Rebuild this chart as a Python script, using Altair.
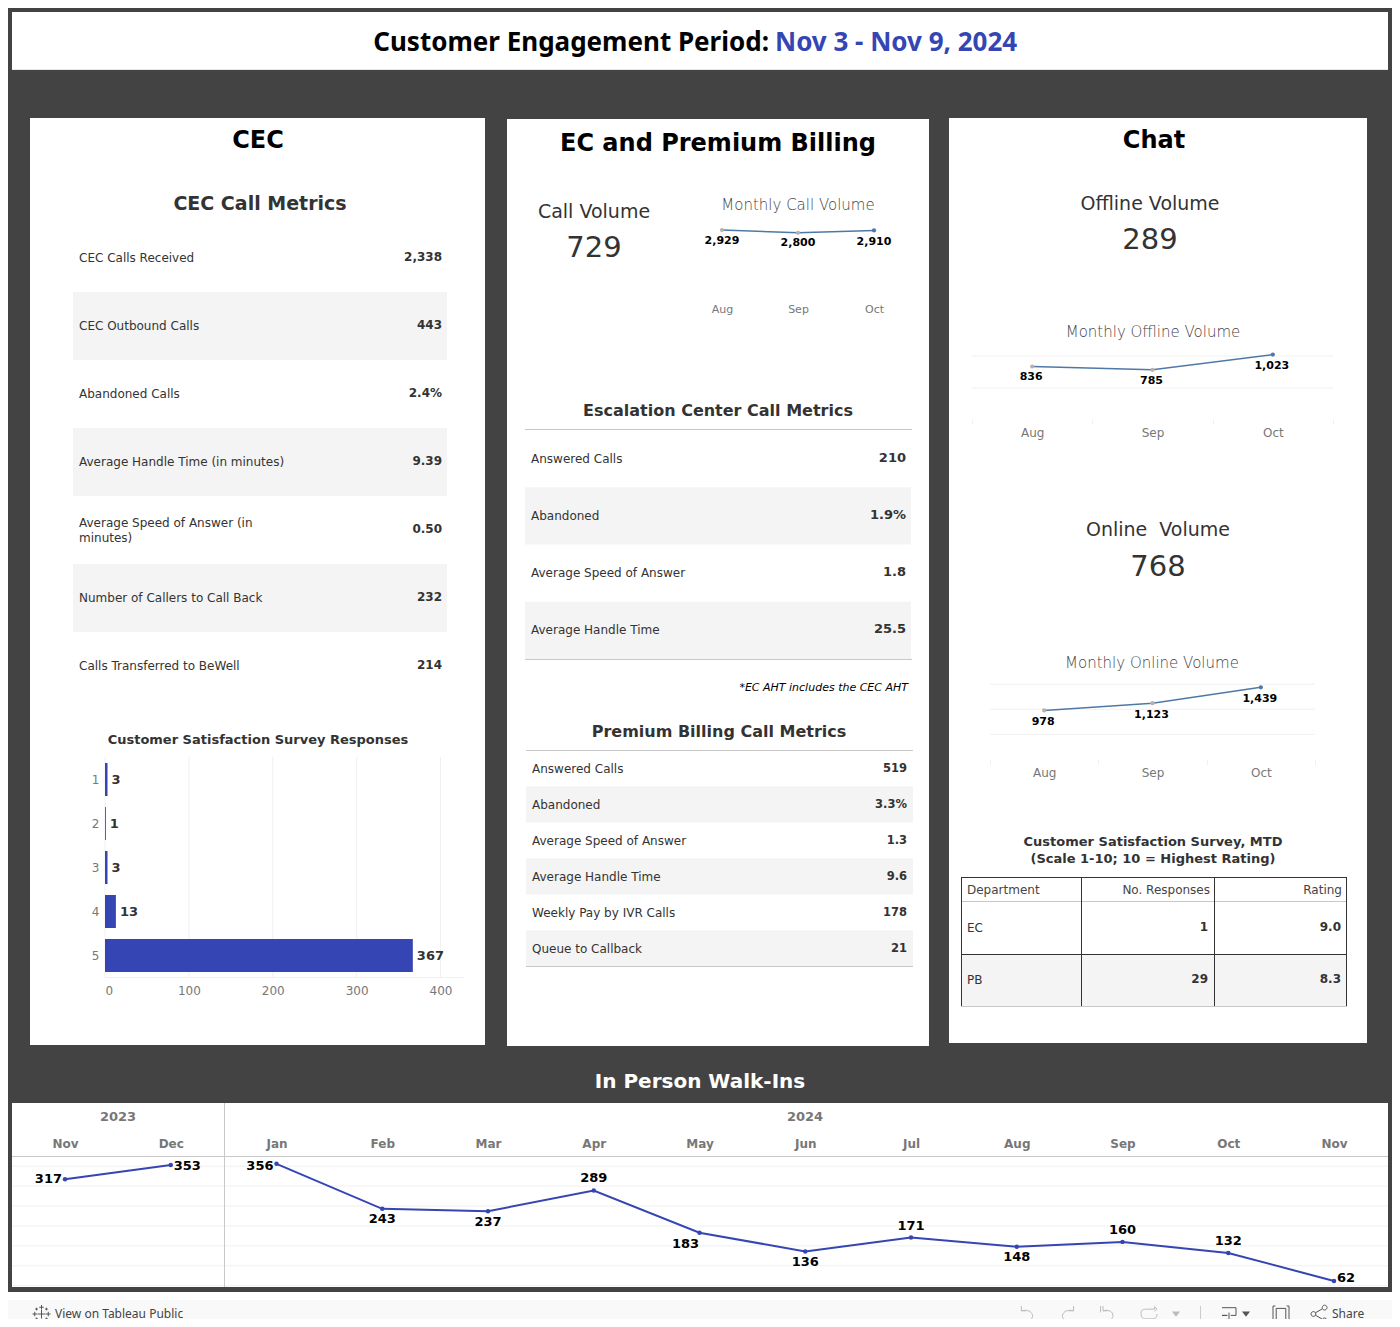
import altair as alt
import pandas as pd

# ---------- data ----------
cec_labels = ["CEC Calls Received", "CEC Outbound Calls", "Abandoned Calls", "Average Handle Time (in minutes)",
              "Average Speed of Answer (in\nminutes)", "Number of Callers to Call Back", "Calls Transferred to BeWell"]
cec_values = ["2,338", "443", "2.4%", "9.39", "0.50", "232", "214"]
ec_labels = ["Answered Calls", "Abandoned", "Average Speed of Answer", "Average Handle Time"]
ec_values = ["210", "1.9%", "1.8", "25.5"]
pb_labels = ["Answered Calls", "Abandoned", "Average Speed of Answer", "Average Handle Time", "Weekly Pay by IVR Calls", "Queue to Callback"]
pb_values = ["519", "3.3%", "1.3", "9.6", "178", "21"]
survey_scores = ["1", "2", "3", "4", "5"]
survey_counts = [3, 1, 3, 13, 367]
spark_months = ["Aug", "Sep", "Oct"]
call_volume = [2929, 2800, 2910]
offline_volume = [836, 785, 1023]
online_volume = [978, 1123, 1439]
dept_names = ["EC", "PB"]
dept_responses = ["1", "29"]
dept_ratings = ["9.0", "8.3"]
walk_months = ["Nov 2023", "Dec 2023", "Jan 2024", "Feb 2024", "Mar 2024", "Apr 2024", "May 2024", "Jun 2024",
               "Jul 2024", "Aug 2024", "Sep 2024", "Oct 2024", "Nov 2024"]
walk_counts = [317, 353, 356, 243, 237, 289, 183, 136, 171, 148, 160, 132, 62]

# ---------- style ----------
FONT = "DejaVu Sans"
LIGHT = "DejaVu Sans Light"
DARK = "#434343"
BLUE = "#3545B3"
STEEL = "#4E79A7"
PEB = "#BAB0AC"
GRID = "#F0F0F0"
SHADE = "#F4F4F4"
RULE = "#C8C8C8"
TXT = "#333333"
GRAY = "#777777"
ONE = alt.Data(values=[{"a": 1}])
layers = []


def vx(v):
    return alt.value(v - 8)


def box(x0, x1, y0, y1, color):
    layers.append(alt.Chart(ONE).mark_rect(color=color).encode(x=vx(x0), x2=vx(x1), y=vx(y0), y2=vx(y1)))


def hline(x0, x1, y, color=RULE, w=1):
    layers.append(alt.Chart(ONE).mark_rule(color=color, strokeWidth=w).encode(x=vx(x0), x2=vx(x1), y=vx(y)))


def vline(x, y0, y1, color=RULE, w=1):
    layers.append(alt.Chart(ONE).mark_rule(color=color, strokeWidth=w).encode(x=vx(x), y=vx(y0), y2=vx(y1)))


def label(text, x, y, size, weight="normal", color=TXT, align="center", font=FONT, style="normal"):
    layers.append(alt.Chart(ONE).mark_text(fontSize=size, fontWeight=weight, color=color, align=align, font=font,
                                           fontStyle=style, baseline="middle")
                  .encode(x=vx(x), y=vx(y), text=alt.value(text)))


def icon(path, x, y, half, color="#BBBBBB", filled=False, w=1):
    layers.append(alt.Chart(ONE).mark_point(shape=path, size=(2 * half) ** 2, filled=filled, color=color,
                                            strokeWidth=w, opacity=1)
                  .encode(x=vx(x), y=vx(y)))


def table(labels, values, xs, ys, lab_x, val_x, lab_size, val_size, shaded, val_dy=-1, line_height=15):
    df = pd.DataFrame({"k": labels, "v": values})
    yscale = alt.Scale(type="band", domain=labels, range=[ys[0] - 8, ys[1] - 8], paddingInner=0, paddingOuter=0)
    shade_df = df[df.k.isin([labels[i] for i in shaded])]
    layers.append(alt.Chart(shade_df).mark_rect(color=SHADE)
                  .encode(y=alt.Y("k:N", scale=yscale, axis=None), x=vx(xs[0]), x2=vx(xs[1])))
    one_line = df[~df.k.str.contains("\n")]
    two_line = df[df.k.str.contains("\n")]
    layers.append(alt.Chart(one_line).mark_text(font=FONT, fontSize=lab_size, color=TXT, align="left", baseline="middle")
                  .encode(y=alt.Y("k:N", scale=yscale, axis=None), x=vx(lab_x), text="k:N"))
    if len(two_line):
        layers.append(alt.Chart(two_line).mark_text(font=FONT, fontSize=lab_size, color=TXT, align="left", baseline="middle",
                                                    lineBreak="\n", lineHeight=line_height, dy=-7.5)
                      .encode(y=alt.Y("k:N", scale=yscale, axis=None), x=vx(lab_x), text="k:N"))
    layers.append(alt.Chart(df).mark_text(font=FONT, fontSize=val_size, fontWeight="bold", color=TXT, align="right",
                                          baseline="middle", dy=val_dy)
                  .encode(y=alt.Y("k:N", scale=yscale, axis=None), x=vx(val_x), text="v:N"))


def spark(values, band, y_dom, y_rng, grid_ticks, grid_x, axis_y, label_dy, label_dx, axis_size, tick):
    df = pd.DataFrame({"m": spark_months, "v": values, "t": [f"{v:,}" for v in values]})
    xs = alt.Scale(type="band", domain=spark_months, range=[band[0] - 8, band[1] - 8], paddingInner=0, paddingOuter=0)
    ys = alt.Scale(domain=y_dom, range=[y_rng[0] - 8, y_rng[1] - 8], nice=False, zero=False)
    if grid_ticks:
        g = pd.DataFrame({"t": grid_ticks})
        layers.append(alt.Chart(g).mark_rule(color=GRID).encode(y=alt.Y("t:Q", scale=ys, axis=None),
                                                                x=vx(grid_x[0]), x2=vx(grid_x[1])))
    layers.append(alt.Chart(df).mark_line(color=STEEL, strokeWidth=1.5).encode(
        x=alt.X("m:N", scale=xs, sort=None,
                axis=alt.Axis(orient="bottom", offset=axis_y - 8 - H, title=None, domain=False, ticks=tick,
                              tickBand="extent", tickColor=GRID, tickSize=5, labelAngle=0, labelColor=GRAY,
                              labelFont=FONT, labelFontSize=axis_size, labelPadding=3, grid=False, zindex=1)),
        y=alt.Y("v:Q", scale=ys, axis=None)))
    layers.append(alt.Chart(df).mark_point(filled=True, size=18, opacity=1).encode(
        x=alt.X("m:N", scale=xs, sort=None, axis=None), y=alt.Y("v:Q", scale=ys, axis=None),
        color=alt.condition(alt.datum.m == spark_months[-1], alt.value(STEEL), alt.value(PEB))))
    for m, dy in zip(spark_months, label_dy):
        layers.append(alt.Chart(df).transform_filter(alt.datum.m == m)
                      .mark_text(font=FONT, fontSize=11, fontWeight="bold", color="#000000", dy=dy, dx=label_dx,
                                 baseline="middle")
                      .encode(x=alt.X("m:N", scale=xs, sort=None, axis=None),
                              y=alt.Y("v:Q", scale=ys, axis=None), text="t:N"))


W, H = 1384, 1311

# ---------- frame ----------
box(8, 1392, 8, 1292, DARK)
box(12, 1388, 12, 70, "#FFFFFF")
hline(12, 1388, 69.5, "#E6E6E6")
box(30, 485, 118, 1045, "#FFFFFF")
box(507, 929, 119, 1046, "#FFFFFF")
box(949, 1367, 118, 1043, "#FFFFFF")
box(12, 1388, 1103, 1287, "#FFFFFF")
box(8, 1392, 1300, 1319, "#F9F9F9")

# ---------- titles ----------
label("Customer Engagement Period:", 769, 43, 26, "bold", "#000000", "right", "Noto Sans")
label("Nov 3 - Nov 9, 2024", 775, 43, 26, "bold", BLUE, "left", "Noto Sans")
label("CEC", 258, 141, 24, "bold", "#000000")
label("EC and Premium Billing", 718, 144, 24, "bold", "#000000")
label("Chat", 1154, 141, 24, "bold", "#000000")
label("In Person Walk-Ins", 700, 1082, 20, "bold", "#FFFFFF")

# ---------- CEC ----------
label("CEC Call Metrics", 260, 204, 19, "bold")
box(73, 297, 292, 360, SHADE)
table(cec_labels, cec_values, (73, 447), (224, 700), 79, 442, 12, 12, [1, 3, 5])
label("Customer Satisfaction Survey Responses", 258, 740, 13, "bold")

bar_df = pd.DataFrame({"s": survey_scores, "n": survey_counts})
bx = alt.Scale(domain=[0, 428], range=[105 - 8, 464 - 8], nice=False, zero=True)
by = alt.Scale(type="band", domain=survey_scores, range=[757.5 - 8, 977.5 - 8], paddingInner=0.25, paddingOuter=0.125)
grid_df = pd.DataFrame({"t": [100, 200, 300, 400]})
layers.append(alt.Chart(grid_df).mark_rule(color=GRID).encode(x=alt.X("t:Q", scale=bx, axis=None), y=vx(757), y2=vx(977)))
hline(105, 464, 977.5, GRID)
vline(105, 757, 977, GRID)
layers.append(alt.Chart(bar_df).mark_bar(color=BLUE).encode(
    x=alt.X("n:Q", scale=bx, axis=alt.Axis(orient="bottom", offset=977.5 - 8 - H, title=None, values=[0, 100, 200, 300, 400],
                                           grid=False, domain=False, ticks=False, labelColor=GRAY, labelFont=FONT,
                                           labelFontSize=12, labelPadding=8, labelFlush=True, labelOverlap=False, zindex=1)),
    y=alt.Y("s:N", scale=by, sort=None, axis=alt.Axis(orient="left", offset=-(105 - 8), title=None, grid=False, domain=False,
                                                      ticks=False, labelColor=GRAY, labelFont=FONT, labelFontSize=12,
                                                      labelPadding=6, labelAngle=0, zindex=1))))
layers.append(alt.Chart(bar_df).mark_text(font=FONT, fontSize=13, fontWeight="bold", color=TXT, align="left", dx=4, baseline="middle")
              .encode(x=alt.X("n:Q", scale=bx, axis=None), y=alt.Y("s:N", scale=by, sort=None, axis=None), text="n:Q"))

# ---------- EC & PB ----------
label("Call Volume", 594, 212, 19, "normal")
label("729", 594, 248, 29, "normal")
label("Monthly Call Volume", 798, 205, 15, "normal", "#444444", "center", LIGHT)
spark(call_volume, (684, 912), [2800, 2929], (232.8, 230), None, None, 300, [10.5, 10.5, 11.5], 0, 11, False)

label("Escalation Center Call Metrics", 718, 411, 16, "bold")
hline(525, 912, 429.5)
table(ec_labels, ec_values, (525, 911), (430, 659), 531, 906, 12, 13, [1, 3])
hline(525, 912, 659.5)
label("*EC AHT includes the CEC AHT", 908, 688, 11, "normal", "#000000", "right", FONT, "italic")

label("Premium Billing Call Metrics", 719, 732, 16, "bold")
hline(526, 913, 750.5)
table(pb_labels, pb_values, (526, 913), (750.5, 966.5), 532, 907, 12, 11.5, [1, 3, 5], val_dy=0)
hline(526, 913, 966.5)

# ---------- Chat ----------
label("Offline Volume", 1150, 204, 19, "normal")
label("289", 1150, 240, 29, "normal")
label("Monthly Offline Volume", 1153, 332, 15, "normal", "#444444", "center", LIGHT)
spark(offline_volume, (972, 1333), [0, 1000], (420, 356), [500, 1000], (972, 1333), 419, [10.5, 11, 11.5], -1, 12, True)

label("Online\u00a0\u00a0Volume", 1158, 530, 19, "normal")
label("768", 1158, 567, 29, "normal")
label("Monthly Online Volume", 1152, 663, 15, "normal", "#444444", "center", LIGHT)
spark(online_volume, (990, 1315), [0, 1500], (759.3, 684.3), [500, 1000, 1500], (990, 1315), 759.5, [12, 12, 12], -1, 12, True)

label("Customer Satisfaction Survey, MTD", 1153, 842, 13, "bold")
label("(Scale 1-10; 10 = Highest Rating)", 1153, 859, 13, "bold")

dept_df = pd.DataFrame({"d": dept_names, "r": dept_responses, "a": dept_ratings})
dy_scale = alt.Scale(type="band", domain=dept_names, range=[901.5 - 8, 1006 - 8], paddingInner=0, paddingOuter=0)
layers.append(alt.Chart(dept_df[dept_df.d == "PB"]).mark_rect(color=SHADE).encode(
    y=alt.Y("d:N", scale=dy_scale, axis=None), x=vx(961.5), x2=vx(1346.5)))
for field, x_pos, bold, al, dy in [("d", 967, False, "left", 0), ("r", 1208, True, "right", -1), ("a", 1341, True, "right", -1)]:
    layers.append(alt.Chart(dept_df).mark_text(font=FONT, fontSize=12, fontWeight="bold" if bold else "normal", color=TXT,
                                               align=al, baseline="middle", dy=dy)
                  .encode(y=alt.Y("d:N", scale=dy_scale, axis=None), x=vx(x_pos), text=f"{field}:N"))
label("Department", 967, 890, 12, "normal", "#444444", "left")
label("No. Responses", 1210, 890, 12, "normal", "#444444", "right")
label("Rating", 1342, 890, 12, "normal", "#444444", "right")
hline(961, 1347, 877.5, "#333333")
hline(961, 1347, 901.5, RULE)
hline(961, 1347, 954.5, "#333333")
hline(961, 1347, 1006.5, RULE)
for xv in (961.5, 1081.5, 1214.5, 1346.5):
    vline(xv, 877, 1006, "#333333")

# ---------- walk-ins ----------
wx = alt.Scale(type="point", domain=walk_months, range=[65 - 8, 1334 - 8], padding=0)
wy = alt.Scale(domain=[50, 350], range=[1285.7 - 8, 1166.2 - 8], nice=False, zero=False)
wdf = pd.DataFrame({"m": walk_months, "n": walk_counts})
wg = pd.DataFrame({"t": [50, 100, 150, 200, 250, 300, 350]})
layers.append(alt.Chart(wg).mark_rule(color=GRID).encode(y=alt.Y("t:Q", scale=wy, axis=None), x=vx(12), x2=vx(1388)))
hline(12, 1388, 1156.5)
vline(224.5, 1103, 1287)
label("2023", 118, 1117, 13, "bold", GRAY)
label("2024", 805, 1117, 13, "bold", GRAY)
layers.append(alt.Chart(wdf).mark_line(color=BLUE, strokeWidth=2).encode(
    x=alt.X("m:N", scale=wx, sort=None,
            axis=alt.Axis(orient="top", offset=-(1156 - 8), title=None, domain=False, ticks=False, grid=False, labelAngle=0,
                          labelColor=GRAY, labelFont=FONT, labelFontSize=12, labelFontWeight="bold", labelPadding=6,
                          labelExpr="split(datum.label, ' ')[0]", labelOverlap=False, zindex=1)),
    y=alt.Y("n:Q", scale=wy, axis=None),
    detail=alt.Detail("n_group:N")).transform_calculate(n_group="indexof(datum.m, '2023') >= 0 ? '2023' : '2024'"))
layers.append(alt.Chart(wdf).mark_point(color=BLUE, filled=True, size=20, opacity=1).encode(
    x=alt.X("m:N", scale=wx, sort=None, axis=None), y=alt.Y("n:Q", scale=wy, axis=None)))
for months, al, dx, dy in [
    (["Nov 2023"], "right", -3, 0), (["Dec 2023"], "left", 3, 1), (["Jan 2024"], "right", -3, 2.5),
    (["Nov 2024"], "left", 3, -3), (["Apr 2024", "Jul 2024", "Sep 2024", "Oct 2024"], "center", 0, -12),
    (["Feb 2024", "Mar 2024", "Jun 2024", "Aug 2024"], "center", 0, 10.5), (["May 2024"], "center", -14, 11)]:
    layers.append(alt.Chart(wdf).transform_filter(alt.FieldOneOfPredicate(field="m", oneOf=months))
                  .mark_text(font=FONT, fontSize=13, fontWeight="bold", color="#000000", align=al, dx=dx, dy=dy, baseline="middle")
                  .encode(x=alt.X("m:N", scale=wx, sort=None, axis=None), y=alt.Y("n:Q", scale=wy, axis=None), text="n:Q"))

# ---------- toolbar ----------
def plus(cx, cy, r):
    return f"M{cx - r},{cy}L{cx + r},{cy}M{cx},{cy - r}L{cx},{cy + r}"


logo = plus(0, 0, 0.45) + plus(0, -0.75, 0.25) + plus(0, 0.75, 0.25) + plus(-0.75, 0, 0.25) + plus(0.75, 0, 0.25) + \
       plus(-0.55, -0.55, 0.15) + plus(0.55, -0.55, 0.15) + plus(-0.55, 0.55, 0.15) + plus(0.55, 0.55, 0.15)
icon(logo, 41.5, 1314, 9, "#555555")
label("View on Tableau Public", 55, 1314, 12, "normal", "#444444", "left", "Noto Sans")
undo = "M-0.7,-1L-0.7,-0.4L-0.1,-0.4M-0.7,-0.4C0.9,-0.8 1.2,0.9 -0.2,0.9L-0.7,0.9"
redo = "M0.7,-1L0.7,-0.4L0.1,-0.4M0.7,-0.4C-0.9,-0.8 -1.2,0.9 0.2,0.9L0.7,0.9"
revert = "M-0.8,-1L-0.8,-0.2M-0.5,-1L-0.5,-0.4L0.1,-0.4M-0.5,-0.4C1,-0.8 1.2,0.9 -0.2,0.9L-0.7,0.9"
refresh = "M-1,-0.1C-1,-0.6 -0.6,-0.6 -0.3,-0.6L0.7,-0.6L0.7,-0.9L1,-0.6L0.7,-0.3M1,0C1,0.6 0.6,0.6 0.3,0.6L-0.3,0.6C-0.7,0.6 -1,0.5 -1,-0.1"
caret = "M-1,-0.6L1,-0.6L0,0.7Z"
dl = "M-1,-0.9L1,-0.9L1,0.2L0.25,0.2M-0.25,0.2L-1,0.2ZM0,-0.2L0,1M-0.3,0.7L0,1L0.3,0.7"
fs = "M-0.7,-1L-1,-1L-1,1L-0.7,1M0.7,-1L1,-1L1,1L0.7,1M-0.6,-0.7L0.6,-0.7L0.6,0.7L-0.6,0.7Z"
share = "M-1,0A0.3,0.3 0 1 1 -0.4,0A0.3,0.3 0 1 1 -1,0M0.4,-0.8A0.3,0.3 0 1 1 1,-0.8A0.3,0.3 0 1 1 0.4,-0.8M0.4,0.8A0.3,0.3 0 1 1 1,0.8A0.3,0.3 0 1 1 0.4,0.8M-0.45,-0.15L0.42,-0.65M-0.45,0.15L0.42,0.65"
icon(undo, 1027, 1314, 8)
icon(redo, 1068, 1314, 8)
icon(revert, 1107, 1314, 8)
icon(refresh, 1149, 1314, 8)
icon(caret, 1176, 1314, 4, "#BBBBBB", True)
vline(1200.5, 1306, 1319, "#CCCCCC")
icon(dl, 1229, 1314, 7, "#555555")
icon(caret, 1246, 1314, 4, "#555555", True)
icon(fs, 1281, 1314, 8, "#555555")
icon(share, 1319, 1314, 8, "#555555")
label("Share", 1332, 1314, 12, "normal", "#444444", "left", "Noto Sans")

chart = alt.layer(*layers).resolve_scale(x="independent", y="independent").properties(
    width=W, height=H, padding=0, autosize=alt.AutoSizeParams(type="none"), background="#FFFFFF"
).configure_view(stroke=None)
chart.save("out.html", embed_options={"renderer": "svg", "actions": False})
